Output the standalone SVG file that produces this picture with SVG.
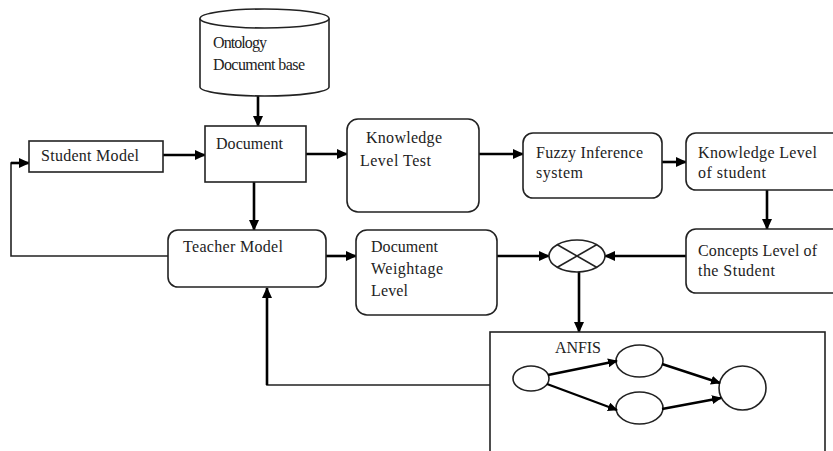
<svg xmlns="http://www.w3.org/2000/svg" width="833" height="451" viewBox="0 0 833 451">
  <defs>
    <marker id="arrow" markerUnits="userSpaceOnUse" markerWidth="11" markerHeight="10" refX="10" refY="5" orient="auto">
      <path d="M0,0 L11,5 L0,10 z" fill="#000"/>
    </marker>
    <marker id="arrowSmall" markerUnits="userSpaceOnUse" markerWidth="10" markerHeight="9" refX="9" refY="4.5" orient="auto">
      <path d="M0,0 L10,4.5 L0,9 z" fill="#000"/>
    </marker>
  </defs>
  <style>
    .box { fill: #fff; stroke: #222; stroke-width: 1.6; }
    .lbl { font-family: "Liberation Serif", "Times New Roman", serif; font-size: 16px; fill: #222; }
    .flow { fill: none; stroke: #000; stroke-width: 2.6; marker-end: url(#arrow); }
    .thin { fill: none; stroke: #222; stroke-width: 1.6; }
    .net { fill: none; stroke: #000; stroke-width: 2.4; marker-end: url(#arrowSmall); }
  </style>
  <rect width="833" height="451" fill="#fff"/>

  <!-- connectors -->
  <g id="connectors">
    <line class="flow" x1="258" y1="96" x2="258" y2="126"/>
    <line class="flow" x1="163" y1="155" x2="205" y2="155"/>
    <line class="flow" x1="306" y1="154" x2="347" y2="154"/>
    <line class="flow" x1="479" y1="154" x2="523" y2="154"/>
    <line class="flow" x1="662" y1="162" x2="686" y2="162"/>
    <line class="flow" x1="767" y1="190" x2="767" y2="229"/>
    <line class="flow" x1="254" y1="182" x2="254" y2="230"/>
    <line class="flow" x1="326" y1="256" x2="356" y2="256"/>
    <line class="flow" x1="497" y1="256" x2="549" y2="256"/>
    <line class="flow" x1="686" y1="256" x2="605" y2="256"/>
    <line class="flow" x1="579" y1="272" x2="579" y2="332"/>
    <polyline class="thin" points="168,256 11,256 11,163 20,163"/>
    <line class="flow" x1="11" y1="163" x2="29" y2="163"/>
    <polyline class="thin" points="490,385 267,385 267,300"/>
    <line class="flow" x1="267" y1="385" x2="267" y2="288"/>
  </g>

  <!-- knowledge source -->
  <g id="ontology">
    <path class="box" d="M200,18.5 L200,87 A64.5,9 0 0 0 329,87 L329,18.5"/>
    <ellipse class="box" cx="264.5" cy="18.5" rx="64.5" ry="9.5"/>
    <text class="lbl" x="213" y="48" textLength="54" lengthAdjust="spacing">Ontology</text>
    <text class="lbl" x="213" y="70" textLength="92" lengthAdjust="spacing">Document base</text>
  </g>

  <g id="student-model">
    <rect class="box" x="29" y="141" width="134" height="31"/>
    <text class="lbl" x="41" y="161" textLength="98" lengthAdjust="spacing">Student Model</text>
  </g>

  <g id="document">
    <rect class="box" x="205" y="126" width="101" height="56"/>
    <text class="lbl" x="216" y="149" textLength="67" lengthAdjust="spacing">Document</text>
  </g>

  <g id="knowledge-test">
    <rect class="box" x="347" y="119" width="132" height="93" rx="11"/>
    <text class="lbl" x="366" y="143" textLength="76" lengthAdjust="spacing">Knowledge</text>
    <text class="lbl" x="360" y="166" textLength="71" lengthAdjust="spacing">Level Test</text>
  </g>

  <g id="fuzzy-inference">
    <rect class="box" x="523" y="133" width="139" height="65" rx="10"/>
    <text class="lbl" x="536" y="158" textLength="107" lengthAdjust="spacing">Fuzzy Inference</text>
    <text class="lbl" x="536" y="178" textLength="47" lengthAdjust="spacing">system</text>
  </g>

  <g id="knowledge-level">
    <rect class="box" x="686" y="133" width="160" height="57" rx="10"/>
    <text class="lbl" x="698" y="158" textLength="119" lengthAdjust="spacing">Knowledge Level</text>
    <text class="lbl" x="698" y="178" textLength="68" lengthAdjust="spacing">of student</text>
  </g>

  <g id="concepts-level">
    <rect class="box" x="686" y="229" width="160" height="64" rx="10"/>
    <text class="lbl" x="698" y="256" textLength="119" lengthAdjust="spacing">Concepts Level of</text>
    <text class="lbl" x="698" y="276" textLength="77" lengthAdjust="spacing">the Student</text>
  </g>

  <g id="teacher-model">
    <rect class="box" x="168" y="230" width="158" height="57" rx="10"/>
    <text class="lbl" x="183" y="252" textLength="100" lengthAdjust="spacing">Teacher Model</text>
  </g>

  <g id="document-weightage">
    <rect class="box" x="356" y="230" width="141" height="85" rx="11"/>
    <text class="lbl" x="371" y="252" textLength="67" lengthAdjust="spacing">Document</text>
    <text class="lbl" x="371" y="274" textLength="72" lengthAdjust="spacing">Weightage</text>
    <text class="lbl" x="371" y="296" textLength="37" lengthAdjust="spacing">Level</text>
  </g>

  <g id="combiner">
    <ellipse class="box" cx="577" cy="256" rx="28" ry="16"/>
    <line class="thin" x1="557" y1="244.5" x2="597" y2="267.5"/>
    <line class="thin" x1="557" y1="267.5" x2="597" y2="244.5"/>
  </g>

  <g id="anfis">
    <rect class="box" x="490" y="332" width="335" height="140"/>
    <text class="lbl" x="555" y="353" textLength="46" lengthAdjust="spacing">ANFIS</text>
    <ellipse class="box" cx="531" cy="378.5" rx="18" ry="12.5"/>
    <ellipse class="box" cx="639.5" cy="361" rx="23.5" ry="16"/>
    <ellipse class="box" cx="639.5" cy="408" rx="23.5" ry="16"/>
    <ellipse class="box" cx="742.5" cy="388" rx="23.5" ry="22"/>
    <line class="net" x1="548" y1="375" x2="617" y2="361"/>
    <line class="net" x1="547" y1="384" x2="617" y2="410"/>
    <line class="net" x1="662" y1="364" x2="720" y2="383"/>
    <line class="net" x1="662" y1="409" x2="721" y2="398"/>
  </g>
</svg>
